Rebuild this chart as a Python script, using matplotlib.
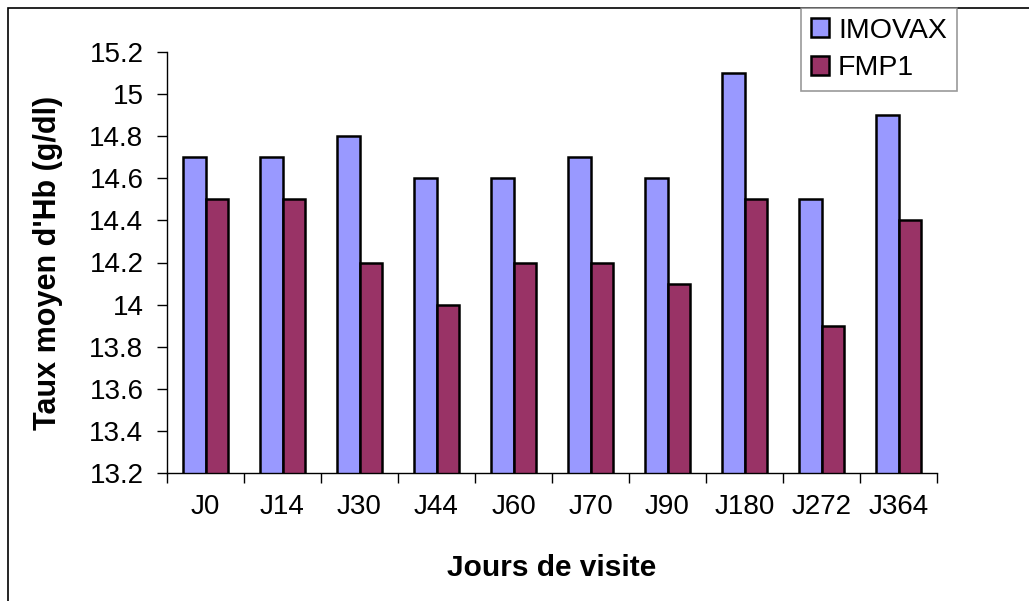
import matplotlib
matplotlib.use("Agg")
import matplotlib.pyplot as plt
import matplotlib.transforms as mtransforms
import numpy as np
from matplotlib.patches import Rectangle

# Visit days and mean haemoglobin (g/dl) per vaccine group
jours = ["J0", "J14", "J30", "J44", "J60", "J70", "J90", "J180", "J272", "J364"]
imovax = [14.7, 14.7, 14.8, 14.6, 14.6, 14.7, 14.6, 15.1, 14.5, 14.9]
fmp1 = [14.5, 14.5, 14.2, 14.0, 14.2, 14.2, 14.1, 14.5, 13.9, 14.4]
yticks = [13.2, 13.4, 13.6, 13.8, 14.0, 14.2, 14.4, 14.6, 14.8, 15.0, 15.2]
ytick_labels = ["13.2", "13.4", "13.6", "13.8", "14", "14.2", "14.4", "14.6", "14.8", "15", "15.2"]

plt.rcParams["font.family"] = ["Liberation Sans", "DejaVu Sans"]

W, H = 1029, 601
fig = plt.figure(figsize=(W / 100, H / 100), dpi=100)
fig.patch.set_facecolor("white")

# chart area frame (extends past the right and bottom edges)
fig.patches.append(Rectangle((8 / W, -0.5), 2.0, 1 - 8 / H + 0.5,
                             transform=fig.transFigure, fill=False,
                             edgecolor="black", linewidth=1.2))

ax_left, ax_right, ax_top, ax_bottom = 167, 937, 52, 473
ax = fig.add_axes([ax_left / W, 1 - ax_bottom / H,
                   (ax_right - ax_left) / W, (ax_bottom - ax_top) / H])

x = np.arange(len(jours))
bw = 0.29
ax.bar(x - bw / 2, imovax, width=bw, color="#9999FF", edgecolor="black",
       linewidth=1.8, label="IMOVAX")
ax.bar(x + bw / 2, fmp1, width=bw, color="#993366", edgecolor="black",
       linewidth=1.8, label="FMP1")

ax.set_xlim(-0.5, len(jours) - 0.5)
ax.set_ylim(13.2, 15.2)
ax.set_yticks(yticks)
ax.set_yticklabels(ytick_labels)
ax.set_xticks(np.arange(len(jours) + 1) - 0.5)
ax.set_xticklabels([])
ax.set_xticks(x, minor=True)
ax.set_xticklabels(jours, minor=True)

ax.spines["top"].set_visible(False)
ax.spines["right"].set_visible(False)
for s in ("left", "bottom"):
    ax.spines[s].set_linewidth(1.0)

ax.tick_params(axis="y", direction="out", length=7, width=1.0,
               labelsize=20, pad=10)
ax.tick_params(axis="x", which="major", direction="out", length=7, width=1.0)
ax.tick_params(axis="x", which="minor", length=0, labelsize=20, pad=15)

ax.set_ylabel("Taux moyen d'Hb (g/dl)", fontsize=22, fontweight="bold")
ax.yaxis.set_label_coords(63 / W, 1 - (ax_top + ax_bottom) / 2 / H,
                          transform=fig.transFigure)
ax.set_xlabel("Jours de visite", fontsize=21.5, fontweight="bold")
ax.xaxis.set_label_coords(0.5, 1 - 568 / H)
ax.xaxis.label.set_transform(mtransforms.blended_transform_factory(
    ax.transAxes, fig.transFigure))
ax.xaxis.label.set_verticalalignment("center")

leg = fig.legend(loc="upper left", bbox_to_anchor=(801 / W, 1 - 8 / H),
                 bbox_transform=fig.transFigure, frameon=True, fancybox=False,
                 fontsize=20.5, handlelength=0.65, handleheight=0.65,
                 handletextpad=0.3, borderpad=0.35, labelspacing=0.4,
                 borderaxespad=0)
leg.get_frame().set_edgecolor("#808080")
leg.get_frame().set_linewidth(1.2)
for p in leg.get_patches():
    p.set_linewidth(1.8)

fig.savefig("out.png", dpi=100, facecolor="white")
